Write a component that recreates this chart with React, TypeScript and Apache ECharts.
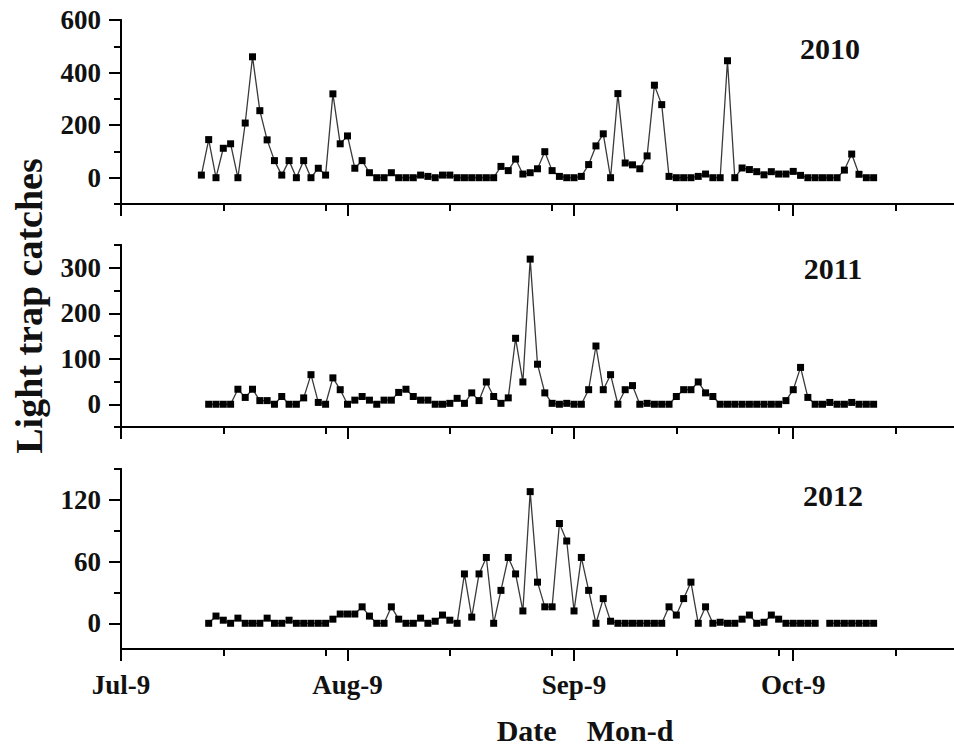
import React, { useEffect, useRef } from "react";
import * as echarts from "echarts";

// Day index counted from Jul-9 (day 0)
const start2010 = 11;
const start2011 = 12;
const start2012 = 12;

const catches2010 = [
  10, 145, 0, 112, 129, 0, 208, 460, 255, 144, 65, 10, 65, 0, 65, 0, 36, 10, 319, 129, 159, 36, 65, 19, 0, 0, 19, 0, 0, 0, 10, 5, 0,
  10, 10, 0, 0, 0, 0, 0, 0, 43, 27, 71, 14, 19, 34, 99, 27, 5, 0, 0, 5, 50, 121, 167, 0, 320, 56, 49, 34, 83, 352, 278, 5, 0, 0,
  0, 5, 14, 0, 0, 445, 0, 37, 31, 23, 11, 23, 14, 14, 24, 9, 0, 0, 0, 0, 0, 29, 90, 13, 0, 0,
];

const catches2011 = [
  0, 0, 0, 0, 33, 15, 33, 8, 8, 0, 17, 0, 0, 14, 65, 4, 0, 58, 32, 0, 9, 17, 9, 0, 9, 9, 26, 33, 17, 9, 9, 0,
  0, 2, 13, 2, 25, 8, 49, 17, 2, 14, 145, 49, 319, 88, 25, 2, 0, 2, 0, 0, 32, 128, 32, 65, 0, 32, 41, 0, 2, 0, 0, 0, 17, 32,
  32, 49, 25, 17, 0, 0, 0, 0, 0, 0, 0, 0, 0, 8, 32, 81, 15, 0, 0, 4, 0, 0, 4, 0, 0, 0,
];

const catches2012: (number | null)[] = [
  0, 7, 3, 0, 5, 0, 0, 0, 5, 0, 0, 3, 0, 0, 0, 0, 0, 4, 9, 9, 9, 16, 7, 0, 0, 16, 4, 0, 0, 5, 0, 2,
  8, 3, 0, 48, 6, 48, 64, 0, 32, 64, 48, 12, 128, 40, 16, 16, 97, 80, 12, 64, 32, 0, 24, 2, 0, 0, 0, 0, 0, 0, 0, 16, 8, 24,
  40, 0, 16, 0, 1, 0, 0, 4, 8, 0, 1, 8, 4, 0, 0, 0, 0, 0, null, 0, 0, 0, 0, 0, 0, 0,
];

const yearLabels = ["2010", "2011", "2012"];

const xTickMajorDays = [0, 31, 62, 92];
const xTickMajorLabels = ["Jul-9", "Aug-9", "Sep-9", "Oct-9"];
const xTickMinorDays = [14, 28, 45, 59, 76, 90, 106];
const xMax = 114;

const yMin = [-100, -50, -25];
const yMax = [600, 350, 150];
const yMajorTicks = [
  [0, 200, 400, 600],
  [0, 100, 200, 300],
  [0, 60, 120],
];
const yMinorTicks = [
  [-100, 100, 300, 500],
  [-50, 50, 150, 250, 350],
  [30, 90, 150],
];

const yTitle = "Light trap catches";
const xTitle = "Date    Mon-d";

const FONT = "'Liberation Serif', 'Times New Roman', serif";

function toPairs(start: number, vals: (number | null)[]) {
  return vals.map((v, i) => [start + i, v]);
}

export default function App() {
  const ref = useRef<HTMLDivElement>(null);
  useEffect(() => {
    if (!ref.current) return;
    const chart = echarts.init(ref.current, undefined, { renderer: "svg" });
    const gridPos = [
      { top: 20, height: 184 },
      { top: 245, height: 182 },
      { top: 469, height: 180 },
    ];
    const grid = gridPos.map((g) => ({
      left: 121,
      right: 0,
      top: g.top,
      height: g.height,
      outerBoundsMode: "none",
      containLabel: false,
    }));
    const axisLine = { show: true, onZero: false, lineStyle: { color: "#000", width: 2 } };
    const xAxis: any[] = [];
    const yAxis: any[] = [];
    for (let g = 0; g < 3; g++) {
      const showLabels = g === 2;
      xAxis.push({
        type: "value",
        gridIndex: g,
        position: "bottom",
        min: 0,
        max: xMax,
        axisLine,
        splitLine: { show: false },
        axisTick: {
          show: true,
          customValues: xTickMajorDays,
          length: 12,
          lineStyle: { color: "#000", width: 2 },
        },
        axisLabel: {
          show: showLabels,
          customValues: xTickMajorDays,
          margin: 22,
          color: "#111",
          fontFamily: FONT,
          fontWeight: "bold",
          fontSize: 27,
          formatter: (v: number) => {
            const i = xTickMajorDays.indexOf(Math.round(v));
            return i >= 0 ? xTickMajorLabels[i] : "";
          },
        },
      });
      xAxis.push({
        type: "value",
        gridIndex: g,
        position: "bottom",
        min: 0,
        max: xMax,
        axisLine,
        splitLine: { show: false },
        axisTick: {
          show: true,
          customValues: xTickMinorDays,
          length: 7,
          lineStyle: { color: "#000", width: 2 },
        },
        axisLabel: { show: false },
      });
      yAxis.push({
        type: "value",
        gridIndex: g,
        position: "left",
        min: yMin[g],
        max: yMax[g],
        axisLine,
        splitLine: { show: false },
        axisTick: {
          show: true,
          customValues: yMajorTicks[g],
          length: 12,
          lineStyle: { color: "#000", width: 2 },
        },
        axisLabel: {
          show: true,
          customValues: yMajorTicks[g],
          margin: 20,
          color: "#111",
          fontFamily: FONT,
          fontWeight: "bold",
          fontSize: 27,
        },
      });
      yAxis.push({
        type: "value",
        gridIndex: g,
        position: "left",
        min: yMin[g],
        max: yMax[g],
        axisLine,
        splitLine: { show: false },
        axisTick: {
          show: true,
          customValues: yMinorTicks[g],
          length: 7,
          lineStyle: { color: "#000", width: 2 },
        },
        axisLabel: { show: false },
      });
    }
    const datasets = [
      toPairs(start2010, catches2010),
      toPairs(start2011, catches2011),
      toPairs(start2012, catches2012),
    ];
    const series = datasets.map((d, g) => ({
      type: "line",
      name: yearLabels[g],
      xAxisIndex: g * 2,
      yAxisIndex: g * 2,
      data: d,
      symbol: "rect",
      symbolSize: 7,
      showSymbol: true,
      connectNulls: false,
      itemStyle: { color: "#000" },
      lineStyle: { color: "#3a3a3a", width: 1.3 },
    }));
    const yearPos = [
      { x: 830, y: 48 },
      { x: 833, y: 268 },
      { x: 833, y: 495 },
    ];
    const graphic: any[] = yearLabels.map((t, g) => ({
      type: "text",
      x: yearPos[g].x,
      y: yearPos[g].y,
      style: {
        text: t,
        fill: "#111",
        font: `bold 30px ${FONT}`,
        align: "center",
        verticalAlign: "middle",
      },
    }));
    graphic.push({
      type: "text",
      x: 29,
      y: 306,
      rotation: Math.PI / 2,
      style: {
        text: yTitle,
        fill: "#111",
        font: `bold 38px ${FONT}`,
        align: "center",
        verticalAlign: "middle",
      },
    });
    graphic.push({
      type: "text",
      x: 585,
      y: 730,
      style: {
        text: xTitle,
        fill: "#111",
        font: `bold 30px ${FONT}`,
        align: "center",
        verticalAlign: "middle",
      },
    });
    chart.setOption({
      animation: false,
      backgroundColor: "#fff",
      grid,
      xAxis,
      yAxis,
      series,
      graphic,
    });
    return () => chart.dispose();
  }, []);
  return (
    <div
      ref={ref}
      style={{ position: "fixed", left: 0, top: 0, width: 954, height: 754 }}
    />
  );
}
